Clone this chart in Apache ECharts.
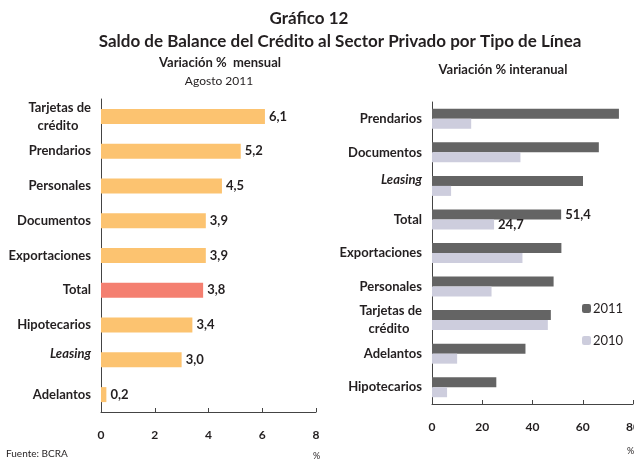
<!DOCTYPE html>
<html lang="es">
<head>
<meta charset="UTF-8">
<title>Gráfico 12</title>
<script src="https://cdn.jsdelivr.net/npm/echarts@6/dist/echarts.min.js"></script>
<style>
  html, body { margin: 0; padding: 0; background: #fff; }
  #chart { width: 634px; height: 460px; }
</style>
</head>
<body>
<div id="chart"></div>
<script>
// variacion mensual, agosto 2011
var mensualCats = ['Tarjetas de\ncrédito', 'Prendarios', 'Personales', 'Documentos', 'Exportaciones', 'Total', 'Hipotecarios', 'Leasing', 'Adelantos'];
var mensualVals = [6.1, 5.2, 4.5, 3.9, 3.9, 3.8, 3.4, 3.0, 0.2];

// variacion interanual
var anualCats = ['Prendarios', 'Documentos', 'Leasing', 'Total', 'Exportaciones', 'Personales', 'Tarjetas de\ncrédito', 'Adelantos', 'Hipotecarios'];
var vals2011 = [74.4, 66.4, 60.1, 51.4, 51.5, 48.4, 47.3, 37.2, 25.6];
var vals2010 = [15.6, 35.2, 7.6, 24.7, 36.0, 23.7, 46.1, 10.0, 6.0];

var FONT = 'Lato, "Open Sans", sans-serif';
var txt = '#231f20';

function coma(v) { return v.toFixed(1).replace('.', ','); }

function catLabel(v) {
    if (v === 'Leasing') return '{i|Leasing}';
    if (v === 'Tarjetas de\ncrédito') return 'Tarjetas de\ncrédito    ';
    return v;
}

function titulo(text, left, top, size, weight, align) {
    return {
        text: text, left: left, top: top, padding: 0, textAlign: align || 'center',
        textStyle: { fontSize: size, fontWeight: weight, color: txt, fontFamily: FONT }
    };
}

var chart = echarts.init(document.getElementById('chart'));

var catAxisLabel = {
    color: txt, fontFamily: FONT, fontWeight: 'bold', fontSize: 13, lineHeight: 18,
    margin: 10,
    formatter: catLabel,
    rich: { i: { fontStyle: 'italic', fontWeight: 'bold', fontFamily: FONT, fontSize: 13, color: txt, padding: [0, 0, 12, 0] } }
};

var valAxisLabel = {
    color: txt, fontFamily: FONT, fontWeight: 'bold', fontSize: 12, margin: 17
};

var valLabel = {
    show: true, position: 'right', distance: 4,
    color: txt, fontFamily: FONT, fontWeight: 'bold', fontSize: 13
};

chart.setOption({
    animation: false,
    textStyle: { fontFamily: FONT },
    title: [
        titulo('Gráfico 12', 309, 10, 17, 'bold'),
        titulo('Saldo de Balance del Crédito al Sector Privado por Tipo de Línea', 340, 33, 17, 'bold'),
        titulo('Variación %  mensual', 220, 56, 13, 'bold'),
        titulo('Agosto 2011', 219, 75, 12, 'normal'),
        titulo('Variación % interanual', 503, 63, 13, 'bold'),
        titulo('Fuente: BCRA', 6, 449, 10, 'normal', 'left'),
        titulo('%', 313, 452, 9, 'normal', 'left'),
        titulo('%', 627, 447, 9, 'normal', 'left')
    ],
    legend: {
        orient: 'vertical', left: 582, top: 302, padding: 0,
        itemWidth: 9, itemHeight: 9, itemGap: 19,
        data: ['2011', '2010'],
        textStyle: { fontSize: 13, color: txt, fontFamily: FONT, padding: [0, 0, 0, -3] }
    },
    grid: [
        { left: 101, top: 99, width: 215, height: 313, outerBoundsMode: 'none' },
        { left: 432, top: 102, width: 201, height: 302, outerBoundsMode: 'none' }
    ],
    xAxis: [
        { type: 'value', gridIndex: 0, min: 0, max: 8, interval: 2,
          axisLine: { show: true, lineStyle: { color: '#444' } },
          axisTick: { show: true, inside: true, length: 4, lineStyle: { color: '#444' } },
          splitLine: { show: false },
          axisLabel: valAxisLabel },
        { type: 'value', gridIndex: 1, min: 0, max: 80, interval: 20,
          axisLine: { show: true, lineStyle: { color: '#444' } },
          axisTick: { show: true, inside: true, length: 4, lineStyle: { color: '#444' } },
          splitLine: { show: false },
          axisLabel: valAxisLabel }
    ],
    yAxis: [
        { type: 'category', gridIndex: 0, data: mensualCats, inverse: true,
          axisLine: { lineStyle: { color: '#444' } },
          axisTick: { show: false },
          axisLabel: catAxisLabel },
        { type: 'category', gridIndex: 1, data: anualCats, inverse: true,
          axisLine: { lineStyle: { color: '#444' } },
          axisTick: { show: false },
          axisLabel: catAxisLabel }
    ],
    series: [
        {
            type: 'bar', xAxisIndex: 0, yAxisIndex: 0, barWidth: 15,
            data: mensualVals.map(function (v, i) {
                return {
                    value: v,
                    itemStyle: { color: mensualCats[i] === 'Total' ? '#f47f70' : '#fcc370' }
                };
            }),
            label: Object.assign({}, valLabel, {
                formatter: function (p) { return coma(p.value); }
            })
        },
        {
            name: '2011', type: 'bar', xAxisIndex: 1, yAxisIndex: 1, barWidth: 10, barGap: '0%',
            itemStyle: { color: '#646464' },
            data: vals2011,
            label: Object.assign({}, valLabel, {
                formatter: function (p) { return p.name === 'Total' ? coma(p.value) : ''; }
            })
        },
        {
            name: '2010', type: 'bar', xAxisIndex: 1, yAxisIndex: 1, barWidth: 10, barGap: '0%',
            itemStyle: { color: '#cdcddd' },
            data: vals2010,
            label: Object.assign({}, valLabel, {
                formatter: function (p) { return p.name === 'Total' ? coma(p.value) : ''; }
            })
        }
    ]
});
</script>
</body>
</html>
